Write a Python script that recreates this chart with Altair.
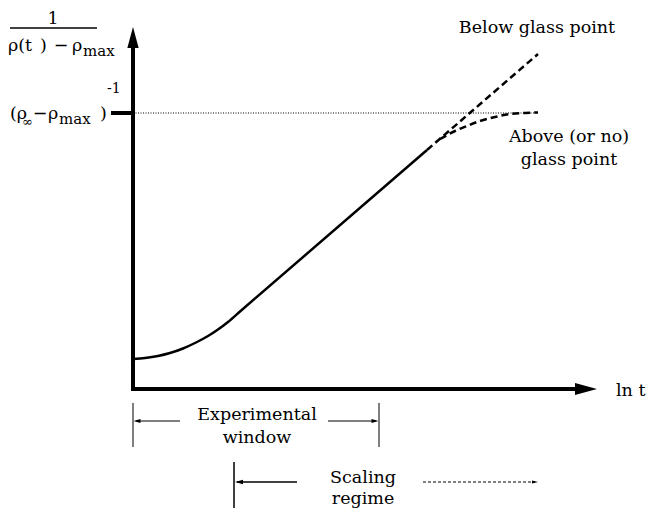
import altair as alt
import pandas as pd

# ---- chart units: x = "ln t", y = 1/(rho(t)-rho_max), arbitrary units, origin at axes corner
curve_x = [0, 12, 25, 37, 50, 63, 75, 85, 95, 107, 294]
curve_y = [30, 31, 33, 36, 40.5, 46.5, 53, 59.5, 67, 77.5, 239]
below_x = [294, 405]
below_y = [239, 335]
above_x = [307, 322, 334, 347, 362, 377, 392, 405]
above_y = [250, 258, 263, 268, 272, 275, 276, 276.5]
plateau_y = 276
plateau_end = 405
x_axis_end = 444
y_axis_end = 342
window_x = [0, 246]
window_y = [-14, -58]
window_arrow_y = -32
scaling_x = [101, 405]
scaling_bar_y = [-73, -119]
scaling_arrow_y = -93

XD = [-125, 513]
YD = [-119, 381]
W, H = 638, 500
FONT = "DejaVu Serif"
FS = 17.5

xs = alt.Scale(domain=XD, nice=False, zero=False)
ys = alt.Scale(domain=YD, nice=False, zero=False)

seg = pd.DataFrame([
    dict(x=0, y=-2, x2=0, y2=y_axis_end, w=4),
    dict(x=-2, y=0, x2=x_axis_end, y2=0, w=4),
    dict(x=-22, y=plateau_y, x2=0, y2=plateau_y, w=4),
    dict(x=-123, y=361, x2=-36, y2=361, w=1.5),
    dict(x=window_x[0], y=window_y[0], x2=window_x[0], y2=window_y[1], w=1),
    dict(x=window_x[1], y=window_y[0], x2=window_x[1], y2=window_y[1], w=1),
    dict(x=47, y=window_arrow_y, x2=window_x[0] + 3, y2=window_arrow_y, w=1),
    dict(x=195, y=window_arrow_y, x2=window_x[1] - 3, y2=window_arrow_y, w=1),
    dict(x=scaling_x[0], y=scaling_bar_y[0], x2=scaling_x[0], y2=scaling_bar_y[1], w=1.5),
    dict(x=164, y=scaling_arrow_y, x2=scaling_x[0] + 3, y2=scaling_arrow_y, w=1.5),
])

rules = alt.Chart(seg).mark_rule(color="black", strokeCap="butt").encode(
    x=alt.X("x:Q", scale=xs, axis=None),
    y=alt.Y("y:Q", scale=ys, axis=None),
    x2="x2:Q", y2="y2:Q",
    strokeWidth=alt.StrokeWidth("w:Q", scale=None),
)

dotted = alt.Chart(pd.DataFrame([dict(x=0, y=plateau_y, x2=plateau_end, y2=plateau_y)])).mark_rule(
    color="black", strokeWidth=1, strokeDash=[1, 1.5]
).encode(x=alt.X("x:Q", scale=xs, axis=None), y=alt.Y("y:Q", scale=ys, axis=None), x2="x2:Q", y2="y2:Q")

dash_arrow = alt.Chart(pd.DataFrame([dict(x=290, y=scaling_arrow_y, x2=scaling_x[1] - 3, y2=scaling_arrow_y)])).mark_rule(
    color="black", strokeWidth=1.2, strokeDash=[3, 2]
).encode(x=alt.X("x:Q", scale=xs, axis=None), y=alt.Y("y:Q", scale=ys, axis=None), x2="x2:Q", y2="y2:Q")

heads = pd.DataFrame([
    dict(x=0, y=351.5, a=0, s=441),
    dict(x=453, y=0, a=90, s=484),
    dict(x=window_x[0] + 4, y=window_arrow_y, a=270, s=49),
    dict(x=window_x[1] - 4, y=window_arrow_y, a=90, s=49),
    dict(x=scaling_x[0] + 5, y=scaling_arrow_y, a=270, s=64),
    dict(x=scaling_x[1] - 3, y=scaling_arrow_y, a=90, s=36),
])
arrowheads = alt.Chart(heads).mark_point(
    shape="M0,-1L0.54,1L-0.54,1Z", filled=True, color="black", opacity=1, strokeWidth=0
).encode(
    x=alt.X("x:Q", scale=xs, axis=None), y=alt.Y("y:Q", scale=ys, axis=None),
    angle=alt.Angle("a:Q", scale=None), size=alt.Size("s:Q", scale=None),
)

curve = alt.Chart(pd.DataFrame({"x": curve_x, "y": curve_y})).mark_line(
    color="black", strokeWidth=2.5, interpolate="monotone"
).encode(x=alt.X("x:Q", scale=xs, axis=None), y=alt.Y("y:Q", scale=ys, axis=None))

below = alt.Chart(pd.DataFrame({"x": below_x, "y": below_y})).mark_line(
    color="black", strokeWidth=2.5, strokeDash=[7, 4]
).encode(x=alt.X("x:Q", scale=xs, axis=None), y=alt.Y("y:Q", scale=ys, axis=None))

above = alt.Chart(pd.DataFrame({"x": above_x, "y": above_y})).mark_line(
    color="black", strokeWidth=2.5, strokeDash=[7, 4], interpolate="monotone"
).encode(x=alt.X("x:Q", scale=xs, axis=None), y=alt.Y("y:Q", scale=ys, axis=None))

left_texts = pd.DataFrame([
    dict(x=-125, y=338, t="ρ(t", fs=FS),
    dict(x=-93, y=338, t=")", fs=FS),
    dict(x=-61, y=338, t="ρ", fs=FS),
    dict(x=-50, y=333, t="max", fs=15),
    dict(x=-123, y=270, t="(ρ", fs=FS),
    dict(x=-111, y=263, t="∞", fs=13),
    dict(x=-85, y=270, t="ρ", fs=FS),
    dict(x=-74, y=265, t="max", fs=15),
    dict(x=-33, y=270, t=")", fs=FS),
    dict(x=-26, y=296, t="-1", fs=14),
    dict(x=483, y=-7, t="ln t", fs=FS),
])
center_texts = pd.DataFrame([
    dict(x=-80, y=365, t="1", fs=FS),
    dict(x=-72, y=338, t="−", fs=FS),
    dict(x=-93, y=270, t="−", fs=FS),
    dict(x=404, y=356, t="Below glass point", fs=FS),
    dict(x=436, y=247, t="Above (or no)", fs=FS),
    dict(x=436, y=224, t="glass point", fs=FS),
    dict(x=124, y=-31, t="Experimental", fs=FS),
    dict(x=124, y=-54, t="window", fs=FS),
    dict(x=230, y=-94, t="Scaling", fs=FS),
    dict(x=230, y=-115, t="regime", fs=FS),
])

def text_layer(df, align):
    return alt.Chart(df).mark_text(
        align=align, baseline="alphabetic", font=FONT, color="black"
    ).encode(
        x=alt.X("x:Q", scale=xs, axis=None), y=alt.Y("y:Q", scale=ys, axis=None),
        text="t:N", size=alt.Size("fs:Q", scale=None),
    )

chart = alt.layer(
    dotted, rules, dash_arrow, arrowheads, curve, below, above,
    text_layer(left_texts, "left"), text_layer(center_texts, "center"),
).properties(
    width=W, height=H, autosize=alt.AutoSizeParams(type="none"), padding=0, background="white"
).configure_view(stroke=None)

chart.save("out.html", embed_options={"renderer": "svg", "actions": False})
